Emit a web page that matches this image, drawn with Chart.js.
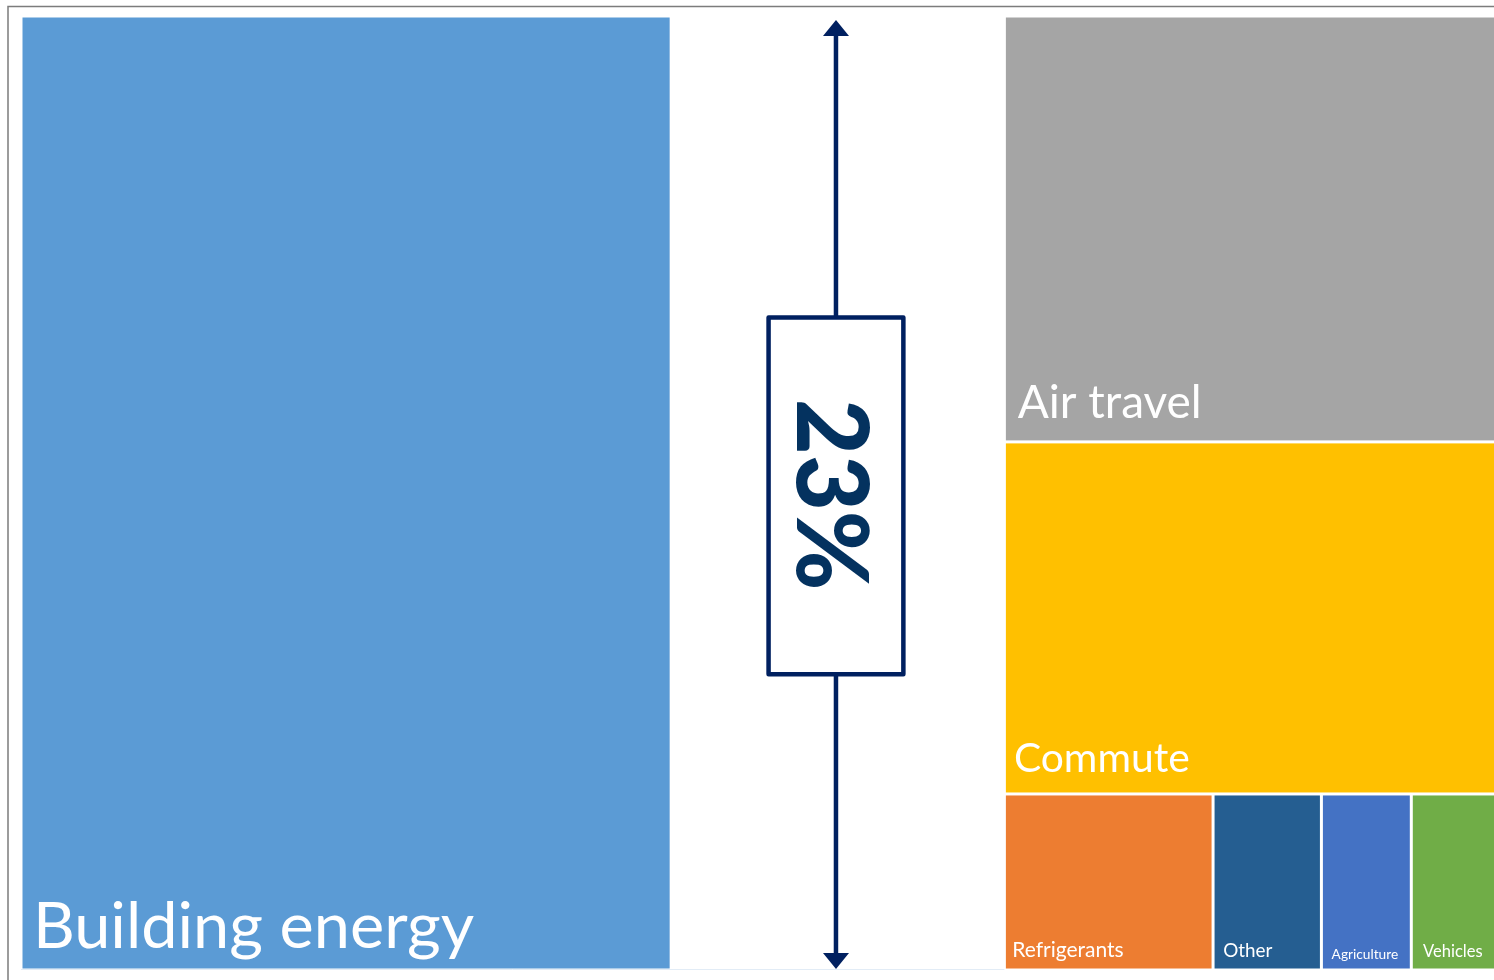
<!DOCTYPE html>
<html>
<head>
<meta charset="utf-8">
<script src="https://cdn.jsdelivr.net/npm/chart.js@4.4.1/dist/chart.umd.min.js"></script>
<style>
html, body { margin: 0; padding: 0; background: #ffffff; overflow: hidden; width: 1494px; height: 980px; }
#wrap { position: relative; width: 1502px; height: 980px; }
canvas { display: block; }
</style>
</head>
<body>
<div id="wrap"><canvas id="c" width="1502" height="980"></canvas></div>
<script>
// ---- data (share of total footprint, %) ----
const categories = ['Building energy', 'Air travel', 'Commute', 'Refrigerants', 'Other', 'Agriculture', 'Vehicles'];
const shares = [43.9, 15.0, 12.4, 2.6, 1.35, 1.12, 1.13];
const reductionShare = 22.5;
const reductionLabel = '23%';
// treemap structure: left column, reduction gap, right column made of rows
const leftColumn = [0];
const rightRows = [[1], [2], [3, 4, 5, 6]];

// ---- styles ----
const colors = ['#5B9BD5', '#A5A5A5', '#FFC000', '#ED7D31', '#255E91', '#4472C4', '#70AD47'];
// label styling: ink width, left padding, baseline offset from cell bottom
const labelStyle = [
  { ink: 435, pad: 15.5, base: 20.5 },
  { ink: 181, pad: 11.8, base: 22.7 },
  { ink: 172.7, pad: 9, base: 20.5 },
  { ink: 109, pad: 7.3, base: 11.8 },
  { ink: 48.4, pad: 8.7, base: 11.5 },
  { ink: 66, pad: 8.7, base: 9.5 },
  { ink: 59, pad: 10.3, base: 11.5 }
];
const navy = '#002060';
const textNavy = '#04325F';

function computeLayout() {
  const total = shares.reduce((a, b) => a + b, 0) + reductionShare;
  const cells = [];
  const sum = ids => ids.reduce((s, i) => s + shares[i], 0);
  const lSum = sum(leftColumn);
  const lW = lSum / total * 100;
  let y = 0;
  leftColumn.forEach(i => {
    const h = shares[i] / lSum * 100;
    cells.push({ i, x0: 0, x1: lW, y0: y, y1: y + h });
    y += h;
  });
  const gapW = reductionShare / total * 100;
  const rx0 = lW + gapW;
  const rSum = rightRows.reduce((s, r) => s + sum(r), 0);
  const rW = rSum / total * 100;
  y = 0;
  rightRows.forEach(row => {
    const rowSum = sum(row);
    const h = rowSum / rSum * 100;
    let x = rx0;
    row.forEach(i => {
      const w = shares[i] / rowSum * rW;
      cells.push({ i, x0: x, x1: x + w, y0: y, y1: y + h });
      x += w;
    });
    y += h;
  });
  return { cells, gapX0: lW, gapX1: rx0 };
}

const treemapPlugin = {
  id: 'treemapCells',
  afterDraw(chart) {
    const ctx = chart.ctx;
    const xs = chart.scales.x, ys = chart.scales.y;
    const L = computeLayout();
    const inset = 1.5;
    ctx.save();
    // outer frame
    ctx.strokeStyle = '#7c7c7c';
    ctx.lineWidth = 1.5;
    ctx.beginPath();
    ctx.moveTo(8, 980);
    ctx.lineTo(8, 6.5);
    ctx.lineTo(1502, 6.5);
    ctx.stroke();

    // faint bottom edge
    ctx.strokeStyle = '#e2ecf6';
    ctx.lineWidth = 1;
    ctx.beginPath();
    ctx.moveTo(xs.getPixelForValue(0), ys.getPixelForValue(100) - 0.5);
    ctx.lineTo(xs.getPixelForValue(L.gapX1), ys.getPixelForValue(100) - 0.5);
    ctx.stroke();

    L.cells.forEach(c => {
      const px0 = xs.getPixelForValue(c.x0) + inset;
      const px1 = xs.getPixelForValue(c.x1) - inset;
      const py0 = ys.getPixelForValue(c.y0) + inset;
      const py1 = ys.getPixelForValue(c.y1) - inset;
      ctx.fillStyle = colors[c.i];
      ctx.fillRect(px0, py0, px1 - px0, py1 - py0);
      const st = labelStyle[c.i];
      const txt = categories[c.i];
      ctx.font = '100px Lato';
      let m = ctx.measureText(txt);
      const inkRef = m.actualBoundingBoxRight + m.actualBoundingBoxLeft;
      const size = 100 * st.ink / inkRef;
      ctx.font = size.toFixed(2) + 'px Lato';
      m = ctx.measureText(txt);
      ctx.fillStyle = '#ffffff';
      ctx.textBaseline = 'alphabetic';
      ctx.textAlign = 'left';
      ctx.fillText(txt, px0 + st.pad + m.actualBoundingBoxLeft, py1 - st.base);
    });

    // reduction arrow
    const cx = xs.getPixelForValue((L.gapX0 + L.gapX1) / 2) - 1.8;
    const topTip = chart.chartArea.top + 4;
    const botTip = chart.chartArea.bottom - 1;
    const headH = 16, headW = 13;
    const boxTop = ys.getPixelForValue(31.6);
    const boxBot = ys.getPixelForValue(69.0);
    const boxHalf = 67.4;
    ctx.strokeStyle = navy;
    ctx.fillStyle = navy;
    ctx.lineWidth = 4.5;
    ctx.lineJoin = 'round';
    ctx.beginPath();
    ctx.moveTo(cx, topTip + headH - 1);
    ctx.lineTo(cx, boxTop);
    ctx.moveTo(cx, boxBot);
    ctx.lineTo(cx, botTip - headH + 1);
    ctx.stroke();
    ctx.beginPath();
    ctx.moveTo(cx, topTip);
    ctx.lineTo(cx + headW, topTip + headH);
    ctx.lineTo(cx - headW, topTip + headH);
    ctx.closePath();
    ctx.fill();
    ctx.beginPath();
    ctx.moveTo(cx, botTip);
    ctx.lineTo(cx + headW, botTip - headH);
    ctx.lineTo(cx - headW, botTip - headH);
    ctx.closePath();
    ctx.fill();
    ctx.fillStyle = '#ffffff';
    ctx.fillRect(cx - boxHalf, boxTop, boxHalf * 2, boxBot - boxTop);
    ctx.strokeRect(cx - boxHalf, boxTop, boxHalf * 2, boxBot - boxTop);

    // rotated percentage label
    const wt = '900 ';
    ctx.font = wt + '100px Lato';
    const capRef = ctx.measureText('2').actualBoundingBoxAscent;
    const fs = 100 * 73 / capRef;
    ctx.font = wt + fs.toFixed(2) + 'px Lato';
    const tm = ctx.measureText(reductionLabel);
    const inkLen = tm.actualBoundingBoxRight + tm.actualBoundingBoxLeft;
    const sx = 186 / inkLen;
    const tcx = cx - 2.5;
    const tcy = ys.getPixelForValue(50.2);
    ctx.translate(tcx, tcy);
    ctx.rotate(Math.PI / 2);
    ctx.scale(sx, 1);
    ctx.fillStyle = textNavy;
    ctx.textAlign = 'left';
    ctx.textBaseline = 'alphabetic';
    const asc = tm.actualBoundingBoxAscent, desc = tm.actualBoundingBoxDescent;
    ctx.fillText(reductionLabel, -inkLen / 2 + tm.actualBoundingBoxLeft, (asc - desc) / 2);
    ctx.restore();
  }
};

function build() {
  new Chart(document.getElementById('c'), {
    type: 'scatter',
    data: { datasets: [{ label: 'cells', data: [], pointRadius: 0 }] },
    options: {
      responsive: false,
      animation: false,
      devicePixelRatio: 1,
      layout: { padding: { left: 21, top: 16, right: 0, bottom: 10 } },
      plugins: { legend: { display: false }, tooltip: { enabled: false }, title: { display: false } },
      scales: {
        x: { type: 'linear', min: 0, max: 100, display: false },
        y: { type: 'linear', min: 0, max: 100, reverse: true, display: false }
      }
    },
    plugins: [treemapPlugin]
  });
}
Promise.all([
  document.fonts.load('100px Lato'),
  document.fonts.load('900 100px Lato')
]).then(build, build);
</script>
</body>
</html>
